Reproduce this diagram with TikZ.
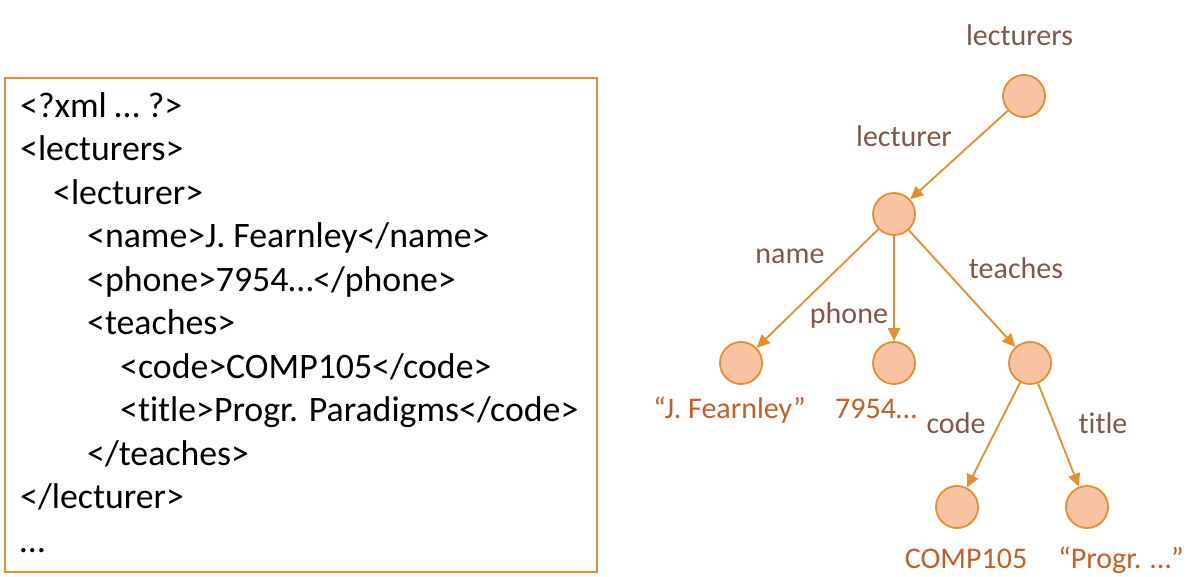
\documentclass[tikz,border=0pt]{standalone}
\usepackage{fontspec}
\setmainfont{Carlito}[Ligatures=CommonOff]
\usetikzlibrary{arrows.meta}
\definecolor{orng}{RGB}{232,141,42}
\definecolor{peach}{RGB}{249,195,163}
\definecolor{lblbrown}{RGB}{128,88,74}
\definecolor{leafc}{RGB}{197,95,40}
\tikzset{
  tnode/.style={circle, draw=orng, fill=peach, line width=1.8pt, minimum size=42pt, inner sep=0pt},
  edge/.style={draw=orng, line width=1.8pt, -{Triangle[length=13pt,width=12pt]}},
  elabel/.style={text=lblbrown, anchor=base, inner sep=0pt, font=\fontsize{30}{36}\selectfont},
  leaflabel/.style={text=leafc, anchor=base, inner sep=0pt, font=\fontsize{30}{36}\selectfont},
  code/.style={anchor=base west, inner sep=0pt, font=\fontsize{35.8}{43}\selectfont},
  frame/.style={draw=orng, line width=2pt}
}
\begin{document}
\begin{tikzpicture}[x=1pt,y=-1pt]
\useasboundingbox (0,0) rectangle (1192,576);
% XML box
\draw[frame] (5,78) rectangle (597,572);
\node[code] (l0) at (20,117) {<?xml … ?>};
\node[code] (l1) at (20,160.5) {<lecturers>};
\node[code] (l2) at (53,204) {<lecturer>};
\node[code] (l3) at (87,247.5) {<name>J. Fearnley</name>};
\node[code] (l4) at (87,291) {<phone>7954…</phone>};
\node[code] (l5) at (87,334.5) {<teaches>};
\node[code] (l6) at (120,378) {<code>COMP105</code>};
\node[code] (l7) at (120,421.5) {<title>Progr. Paradigms</code>};
\node[code] (l8) at (87,465) {</teaches>};
\node[code] (l9) at (20,508.5) {</lecturer>};
\node[code] (l10) at (20,552) {…};
% tree nodes
\node[tnode] (root) at (1024,96) {};
\node[tnode] (lec) at (894,214) {};
\node[tnode] (nm) at (741,363) {};
\node[tnode] (ph) at (894,363) {};
\node[tnode] (te) at (1030,363) {};
\node[tnode] (cd) at (957,507) {};
\node[tnode] (ti) at (1087,507) {};
% edges
\draw[edge] (root) -- (lec);
\draw[edge] (lec) -- (nm);
\draw[edge] (lec) -- (ph);
\draw[edge] (lec) -- (te);
\draw[edge] (te) -- (cd);
\draw[edge] (te) -- (ti);
% labels
\node[elabel] (tlecs) at (1019.5,45) {lecturers};
\node[elabel] (tlec) at (904,146.5) {lecturer};
\node[elabel] (tname) at (790,263) {name};
\node[elabel] (tphone) at (849,323) {phone};
\node[elabel] (tteach) at (1016,278) {teaches};
\node[elabel] (tcode) at (956,433) {code};
\node[elabel] (ttitle) at (1103,433) {title};
\node[leaflabel] (vname) at (729.5,418) {“J. Fearnley”};
\node[leaflabel] (vphone) at (876,418) {7954…};
\node[leaflabel] (vcode) at (966,568) {COMP105};
\node[leaflabel] (vtitle) at (1121,568) {“Progr. …”};
\end{tikzpicture}
\end{document}
